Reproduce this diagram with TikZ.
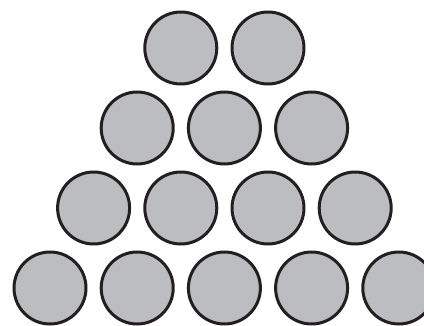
\documentclass[tikz,border=0pt]{standalone}
\usetikzlibrary{calc}
\definecolor{ballfill}{HTML}{BCBDC0}
\definecolor{ballline}{HTML}{231F20}
\begin{document}
\begin{tikzpicture}[x=1pt,y=1pt,
  ball/.style={circle, draw=ballline, fill=ballfill, line width=3pt, minimum size=72pt, inner sep=0pt}]
\useasboundingbox (0,0) rectangle (424,325);
\clip (0,0) rectangle (424,325);
% top row (y = 48 px)
\node[ball] (a1) at (180.8,277) {};
\node[ball] (a2) at (268.0,277) {};
% row 2 (y = 128 px)
\node[ball] (b1) at (137.2,197) {};
\node[ball] (b2) at (224.4,197) {};
\node[ball] (b3) at (311.6,197) {};
% row 3 (y = 208 px)
\node[ball] (c1) at (93.6,117) {};
\node[ball] (c2) at (180.8,117) {};
\node[ball] (c3) at (268.0,117) {};
\node[ball] (c4) at (355.2,117) {};
% row 4 (y = 288 px)
\node[ball] (d1) at (50.0,37) {};
\node[ball] (d2) at (137.2,37) {};
\node[ball] (d3) at (224.4,37) {};
\node[ball] (d4) at (311.6,37) {};
\node[ball] (d5) at (398.8,37) {};
\end{tikzpicture}
\end{document}
